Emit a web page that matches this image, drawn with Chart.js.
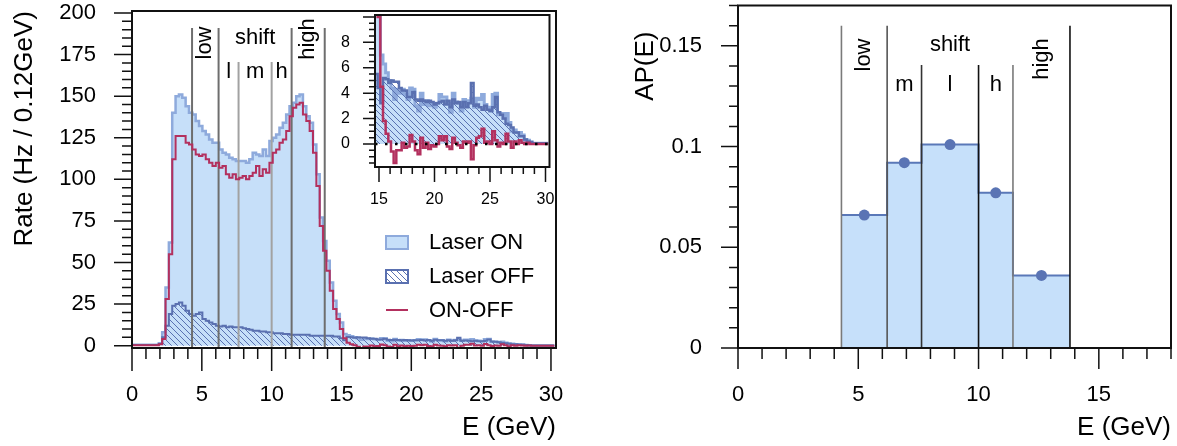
<!DOCTYPE html>
<html lang="en">
<head>
  <meta charset="UTF-8">
  <title>Laser ON / OFF rate and AP(E)</title>
  <script src="https://cdn.jsdelivr.net/npm/chart.js"></script>
  <style>
    body { margin: 0; background: #fff; }
    #wrap { position: relative; width: 1177px; height: 446px; overflow: hidden; }
    #wrap canvas { position: absolute; }
  </style>
</head>
<body>
  <div id="wrap">
    <canvas id="rateChart" width="600" height="446" style="left:0;top:0"></canvas>
    <canvas id="insetChart" width="240" height="215" style="left:320px;top:0"></canvas>
    <canvas id="apChart" width="577" height="446" style="left:600px;top:0"></canvas>
  </div>

  <script>
    // ---- data ----
    // histogram bins, 0.24 GeV wide starting at 0 (two 0.12 GeV bins merged)
    const binWidth = 0.24;
    const rateOn = [
      0.6, 0.6, 0.6, 0.6, 0.6, 0.6, 0.6, 0.6, 1.5, 8,
      35, 62, 140, 150, 151, 149, 144, 140, 139, 135,
      132, 129, 127, 124, 122, 122, 118, 116, 115, 113,
      112, 111, 111, 111, 110, 112, 116, 115, 114, 118,
      114, 123, 125, 127, 131, 134, 139, 144, 146, 150,
      151, 144, 138, 134, 121, 103, 77, 63, 51, 38,
      27, 19, 14, 7, 6.3, 5.6, 5.0, 4.4, 3.5, 4.3,
      4.0, 4.3, 3.9, 3.5, 4.4, 4.3, 3.0, 2.6, 4.0, 3.1,
      3.4, 3.0, 3.2, 2.9, 3.2, 3.9, 3.7, 3.7, 3.2, 2.5,
      4.0, 3.3, 3.2, 2.6, 3.5, 3.0, 3.4, 3.6, 2.9, 3.6,
      3.5, 3.9, 3.1, 2.9, 2.6, 3.9, 4.0, 2.3, 2.4, 2.0,
      2.4, 1.7, 1.0, 1.1, 0.9, 0.9, 0.7, 0.35, 0.3, 0.15,
      0.05, 0.05, 0.05, 0.05, 0.05, 0.05
    ];
    const rateOff = [
      0.4, 0.4, 0.4, 0.4, 0.4, 0.4, 0.4, 0.4, 1, 5,
      12, 19, 24, 25, 26, 24, 21, 19, 18, 19,
      20, 16, 15, 14, 13, 12, 11.5, 12, 11, 11.5,
      11, 11, 11, 10.5, 10, 9.5, 9, 9, 8.5, 8.5,
      8, 8, 7.5, 7.5, 7.5, 7, 7, 6.5, 6.5, 6.5,
      6.5, 6.5, 6.5, 6, 6, 6, 6, 6, 6, 6,
      5.5, 5.5, 4.4, 3.2, 5.2, 5.1, 4.8, 5.0, 4.9, 4.9,
      4.4, 4.2, 4.2, 3.7, 3.7, 4.1, 3.5, 3.4, 3.5, 3.4,
      3.3, 3.4, 3.3, 3.1, 3.2, 3.3, 3.4, 3.1, 3.4, 2.9,
      3.5, 3.2, 3.3, 2.9, 3.3, 2.9, 3.2, 4.8, 3.0, 3.1,
      2.9, 2.7, 3.0, 2.7, 2.6, 2.9, 3.7, 2.5, 2.3, 2.0,
      1.6, 1.5, 1.3, 0.9, 0.9, 0.6, 0.6, 0.35, 0.2, 0.15,
      0.05, 0.05, 0.05, 0.05, 0.05, 0.05
    ];
    const rateDiff = [
      0.2, 0.2, 0.2, 0.2, 0.2, 0.2, 0.2, 0.2, 0.8, 4,
      28, 55, 112, 126, 126, 126, 122, 121, 118, 115,
      114, 115, 112, 110, 108, 110, 107, 108, 103, 101,
      103, 100, 101, 102, 100, 102, 104, 108, 102, 106,
      104, 110, 116, 118, 122, 124, 129, 138, 143, 145,
      146, 139, 135, 129, 116, 96, 72, 57, 45, 33,
      22, 16, 10, 4.5, 1.8, 0.8, 0.2, -0.6, -1.5, -0.5,
      -0.5, 0.1, -0.3, -0.2, 0.7, 0.2, -0.5, -0.8, 0.5, -0.3,
      0.1, -0.4, -0.1, -0.2, 0.0, 0.6, 0.3, 0.6, -0.2, -0.4,
      0.5, 0.1, -0.1, -0.3, 0.2, 0.1, 0.2, -1.2, -0.1, 0.5,
      0.6, 1.2, 0.1, 0.2, 0.0, 1.0, 0.3, -0.2, 0.1, 0.0,
      0.8, 0.2, -0.3, 0.2, 0.0, 0.3, 0.1, 0.0, 0.1, 0.0,
      0, 0, 0, 0, 0, 0
    ];

    // energy regions (GeV) and AP(E) per region
    const regionEdges = [4.3, 6.2, 7.63, 10.0, 11.43, 13.8];
    const rateShiftLabels = ['l', 'm', 'h'];
    const apShiftLabels = ['m', 'l', 'h'];
    const apValues = [0.066, 0.092, 0.101, 0.077, 0.036];

    // tick labels
    const rateXTicks = [0, 5, 10, 15, 20, 25, 30];
    const rateYTicks = [0, 25, 50, 75, 100, 125, 150, 175, 200];
    const insetXTicks = [15, 20, 25, 30];
    const insetYTicks = [0, 2, 4, 6, 8];
    const apXTicks = [0, 5, 10, 15];
    const apYTicks = [0, 0.05, 0.1, 0.15];

    // ---- styles ----
    const FONT = 'Liberation Sans, Arial, Helvetica, sans-serif';
    const onFill = '#c6dff9';
    const onLine = '#8eaadc';
    const offLine = '#5a70b0';
    const diffLine = '#b3305e';

    function makeHatch(canvas) {
      const tile = document.createElement('canvas');
      tile.width = 6; tile.height = 6;
      const g = tile.getContext('2d');
      g.strokeStyle = '#5a72b2';
      g.lineWidth = 1;
      g.beginPath();
      g.moveTo(-1, -1); g.lineTo(7, 7);
      g.moveTo(-1, 5); g.lineTo(1, 7);
      g.moveTo(5, -1); g.lineTo(7, 1);
      g.stroke();
      return canvas.getContext('2d').createPattern(tile, 'repeat');
    }

    // histogram -> step points at bin low edges, plus the closing edge
    function toSteps(values) {
      const pts = values.map((v, i) => ({ x: i * binWidth, y: v }));
      pts.push({ x: values.length * binWidth, y: values[values.length - 1] });
      return pts;
    }

    function histSets(canvas, width) {
      return [
        { data: toSteps(rateDiff), borderColor: diffLine, borderWidth: width, stepped: true, pointRadius: 0, fill: false, order: 0 },
        { data: toSteps(rateOff), borderColor: offLine, borderWidth: width, stepped: true, pointRadius: 0, fill: 'origin', backgroundColor: makeHatch(canvas), order: 2 },
        { data: toSteps(rateOn), borderColor: onLine, borderWidth: width + 0.5, stepped: true, pointRadius: 0, fill: 'origin', backgroundColor: onFill, order: 3 }
      ];
    }

    function fixScale(size) {
      return (s) => {
        if (s.isHorizontal()) s.height = size; else s.width = size;
        s.paddingTop = s.paddingBottom = s.paddingLeft = s.paddingRight = 0;
      };
    }
    const setTicks = (list) => (s) => { s.ticks = list.map(v => ({ value: v })); };

    function axis(min, max, list, size, fontSize, pad, title) {
      return {
        type: 'linear', min: min, max: max,
        grid: { display: false, drawTicks: false },
        border: { display: false },
        afterBuildTicks: setTicks(list),
        afterFit: fixScale(size),
        ticks: { font: { family: FONT, size: fontSize }, color: '#000', padding: pad, maxRotation: 0, autoSkip: false, callback: v => String(v) },
        title: title || { display: false }
      };
    }

    // frame + major/minor tick marks, placed through the scales
    const axisFrame = {
      id: 'axisFrame',
      afterDatasetsDraw(chart, args, o) {
        const { ctx, chartArea: a, scales: { x, y } } = chart;
        ctx.save();
        ctx.strokeStyle = '#111';
        ctx.lineWidth = o.tickWidth;
        ctx.beginPath();
        const each = (sc, minor, major, fn) => {
          for (let k = Math.ceil(sc.min / minor - 1e-9); k * minor <= sc.max + 1e-9; k++) {
            const v = k * minor;
            const isMajor = Math.abs(v / major - Math.round(v / major)) < 1e-6;
            fn(sc.getPixelForValue(v), isMajor);
          }
        };
        each(x, o.xMinor, o.xMajor, (px, m) => {
          ctx.moveTo(px, a.bottom); ctx.lineTo(px, a.bottom + (m ? o.xMajorLen : o.xMinorLen));
        });
        each(y, o.yMinor, o.yMajor, (py, m) => {
          ctx.moveTo(a.left, py); ctx.lineTo(a.left - (m ? o.yMajorLen : o.yMinorLen), py);
        });
        ctx.stroke();
        ctx.lineWidth = o.frameWidth;
        ctx.strokeRect(a.left, a.top, a.right - a.left, a.bottom - a.top);
        ctx.restore();
      }
    };

    // region names (low / shift / high and sub-bins)
    const regionText = {
      id: 'regionText',
      afterDatasetsDraw(chart, args, o) {
        const { ctx, scales: { x } } = chart;
        ctx.save();
        ctx.fillStyle = '#000';
        ctx.font = o.size + 'px ' + FONT;
        ctx.textAlign = 'center';
        ctx.textBaseline = 'middle';
        o.items.forEach(it => {
          const px = x.getPixelForValue(it.x);
          if (it.rotate) {
            ctx.save();
            ctx.translate(px, it.y);
            ctx.rotate(-Math.PI / 2);
            ctx.fillText(it.text, 0, 0);
            ctx.restore();
          } else {
            ctx.fillText(it.text, px, it.y);
          }
        });
        ctx.restore();
      }
    };

    function regionItems(shiftLabels, yTop, yShift, ySub, yHigh) {
      const mid = (a, b) => (regionEdges[a] + regionEdges[b]) / 2;
      return [
        { text: 'low', x: mid(0, 1), y: yTop, rotate: true },
        { text: 'shift', x: mid(1, 4), y: yShift },
        { text: shiftLabels[0], x: mid(1, 2), y: ySub },
        { text: shiftLabels[1], x: mid(2, 3), y: ySub },
        { text: shiftLabels[2], x: mid(3, 4), y: ySub },
        { text: 'high', x: mid(4, 5), y: yHigh, rotate: true }
      ];
    }

    // legend of the rate panel
    const boxLegend = {
      id: 'boxLegend',
      afterDatasetsDraw(chart, args, o) {
        const ctx = chart.ctx;
        ctx.save();
        ctx.lineWidth = 2;
        ctx.fillStyle = onFill;
        ctx.fillRect(386, 236, 22, 13);
        ctx.strokeStyle = onLine;
        ctx.strokeRect(386, 236, 22, 13);
        ctx.fillStyle = '#fff';
        ctx.fillRect(386, 270, 22, 13);
        ctx.fillStyle = o.hatch;
        ctx.fillRect(386, 270, 22, 13);
        ctx.strokeStyle = offLine;
        ctx.strokeRect(386, 270, 22, 13);
        ctx.strokeStyle = diffLine;
        ctx.beginPath();
        ctx.moveTo(386, 310); ctx.lineTo(408, 310);
        ctx.stroke();
        ctx.fillStyle = '#000';
        ctx.font = '22px ' + FONT;
        ctx.textBaseline = 'middle';
        ctx.fillText('Laser ON', 429, 243);
        ctx.fillText('Laser OFF', 429, 277);
        ctx.fillText('ON-OFF', 429, 311);
        ctx.restore();
      }
    };

    const base = {
      responsive: false, animation: false, devicePixelRatio: 1, events: []
    };
    const noLegend = { legend: { display: false }, tooltip: { enabled: false } };

    // ---- rate panel ----
    const rateCanvas = document.getElementById('rateChart');
    const rateLineTop = [191, 191, 170.5, 170.5, 191, 191];
    const rateLineColor = ['#6e6e6e', '#6e6e6e', '#a2a2a2', '#a2a2a2', '#6e6e6e', '#6e6e6e'];
    const rateLines = regionEdges.map((e, k) => ({
      data: [{ x: e, y: -5 }, { x: e, y: rateLineTop[k] }],
      borderColor: rateLineColor[k], borderWidth: 2, pointRadius: 0, fill: false, order: 1
    }));

    new Chart(rateCanvas, {
      type: 'line',
      data: { datasets: histSets(rateCanvas, 2).concat(rateLines) },
      options: Object.assign({}, base, {
        layout: { padding: { left: 0, right: 44, top: 11, bottom: 0 } },
        plugins: Object.assign({}, noLegend, {
          axisFrame: { xMinor: 1, xMajor: 5, yMinor: 5, yMajor: 25, xMajorLen: 23, xMinorLen: 11, yMajorLen: 18, yMinorLen: 10, tickWidth: 1.5, frameWidth: 2 },
          regionText: { size: 22, items: regionItems(rateShiftLabels, 43, 38, 72, 39) },
          boxLegend: { hatch: makeHatch(rateCanvas) }
        }),
        scales: {
          x: axis(0, 30.36, rateXTicks, 98, 22, 34,
            { display: true, text: 'E (GeV)', align: 'end', color: '#000', font: { family: FONT, size: 26 }, padding: { top: 0, bottom: 2.4 } }),
          y: axis(-1.4, 201.2, rateYTicks, 132, 22, 36,
            { display: true, text: 'Rate (Hz / 0.12GeV)', align: 'end', color: '#000', font: { family: FONT, size: 26 }, padding: { top: 9.4, bottom: 0 } })
        }
      }),
      plugins: [axisFrame, regionText, boxLegend]
    });

    // ---- inset: tail of the spectrum ----
    const insetCanvas = document.getElementById('insetChart');
    const zeroLine = {
      data: [{ x: 14.64, y: 0 }, { x: 30.36, y: 0 }],
      borderColor: '#000', borderWidth: 2.5, borderDash: [2.5, 7.5], pointRadius: 0, fill: false, order: -1
    };
    new Chart(insetCanvas, {
      type: 'line',
      data: { datasets: histSets(insetCanvas, 2.5).concat([zeroLine]) },
      options: Object.assign({}, base, {
        layout: { padding: { left: 0, right: 10.5, top: 15, bottom: 0 } },
        plugins: Object.assign({}, noLegend, {
          axisFrame: { xMinor: 1, xMajor: 5, yMinor: 0.5, yMajor: 2, xMajorLen: 15, xMinorLen: 7, yMajorLen: 12, yMinorLen: 6, tickWidth: 1.5, frameWidth: 2 }
        }),
        scales: {
          x: axis(14.64, 30.36, insetXTicks, 48, 16, 23),
          y: axis(-1.81, 10.15, insetYTicks, 55, 16, 25)
        }
      }),
      plugins: [axisFrame]
    });

    // ---- AP(E) panel ----
    const apCanvas = document.getElementById('apChart');
    const apSteps = apValues.map((v, i) => ({ x: regionEdges[i], y: v }));
    apSteps.push({ x: regionEdges[regionEdges.length - 1], y: apValues[apValues.length - 1] });
    const apPoints = apValues.map((v, i) => ({ x: (regionEdges[i] + regionEdges[i + 1]) / 2, y: v }));
    const apLineTop = [0.16, 0.16, 0.1405, 0.1405, 0.1405, 0.16];
    const apLineColor = ['#7a7a7a', '#555555', '#333333', '#111111', '#7a7a7a', '#111111'];
    const apLines = regionEdges.map((e, k) => ({
      data: [{ x: e, y: 0 }, { x: e, y: apLineTop[k] }],
      borderColor: apLineColor[k], borderWidth: 1.6, pointRadius: 0, fill: false, order: 2
    }));

    new Chart(apCanvas, {
      type: 'line',
      data: {
        datasets: [
          { data: apPoints, showLine: false, pointRadius: 5.5, pointBackgroundColor: '#5a74b4', pointBorderWidth: 0, order: 0 },
          { data: apSteps, stepped: true, borderColor: '#5a78b8', borderWidth: 2, pointRadius: 0, fill: 'origin', backgroundColor: '#c6e0fa', order: 3 }
        ].concat(apLines)
      },
      options: Object.assign({}, base, {
        layout: { padding: { left: 0, right: 6, top: 2, bottom: 0 } },
        plugins: Object.assign({}, noLegend, {
          axisFrame: { xMinor: 1, xMajor: 5, yMinor: 0.01, yMajor: 0.05, xMajorLen: 21, xMinorLen: 11, yMajorLen: 17, yMinorLen: 9, tickWidth: 1.5, frameWidth: 2 },
          regionText: { size: 22, items: regionItems(apShiftLabels, 55, 45, 85, 59) }
        }),
        scales: {
          x: axis(0, 18, apXTicks, 98, 22, 34,
            { display: true, text: 'E (GeV)', align: 'end', color: '#000', font: { family: FONT, size: 26 }, padding: { top: 0, bottom: 2.4 } }),
          y: axis(0, 0.17, apYTicks, 138, 22, 36,
            { display: true, text: 'AP(E)\u2003', align: 'end', color: '#000', font: { family: FONT, size: 26 }, padding: { top: 30, bottom: 0 } })
        }
      }),
      plugins: [axisFrame, regionText]
    });
  </script>
</body>
</html>
